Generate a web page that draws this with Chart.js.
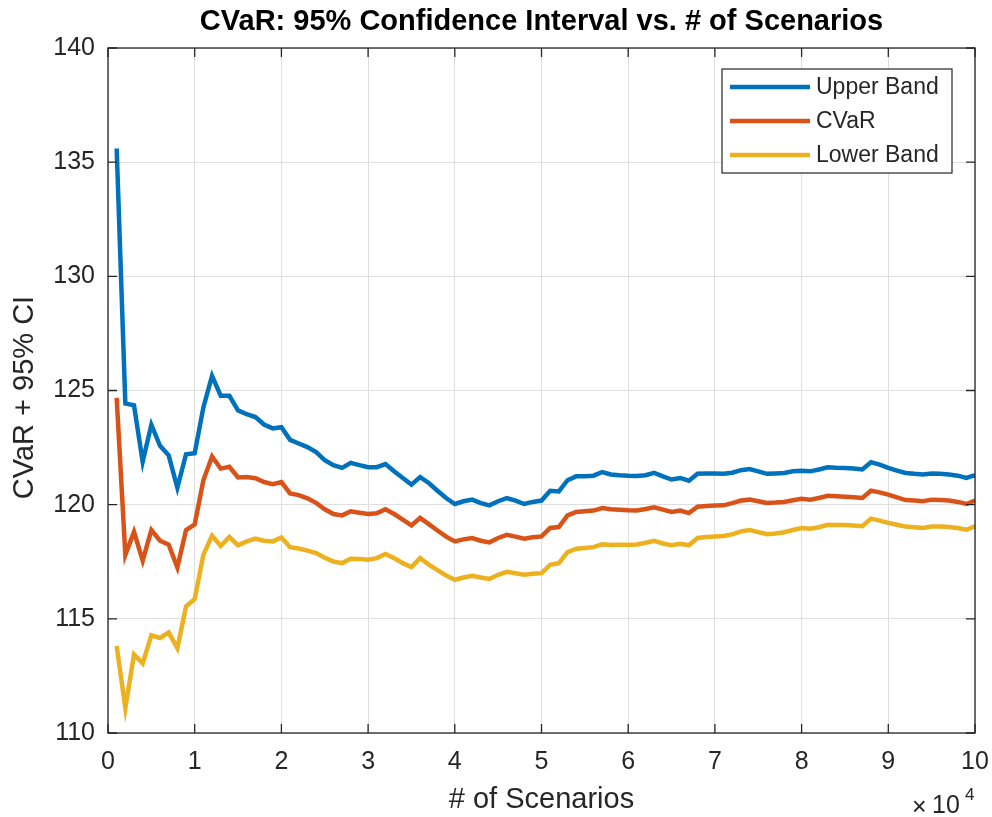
<!DOCTYPE html>
<html>
<head>
<meta charset="utf-8">
<title>CVaR: 95% Confidence Interval vs. # of Scenarios</title>
<script src="https://cdn.jsdelivr.net/npm/chart.js@4.4.1/dist/chart.umd.min.js"></script>
<style>
  html, body { margin: 0; padding: 0; background: #fff; }
</style>
</head>
<body>
<canvas id="cvarChart" width="992" height="817"></canvas>
<script>
// number of simulated scenarios at each estimate
const scenarios = [
  1000, 2000, 3000, 4000, 5000, 6000, 7000, 8000, 9000, 10000,
  11000, 12000, 13000, 14000, 15000, 16000, 17000, 18000, 19000, 20000,
  21000, 22000, 23000, 24000, 25000, 26000, 27000, 28000, 29000, 30000,
  31000, 32000, 33000, 34000, 35000, 36000, 37000, 38000, 39000, 40000,
  41000, 42000, 43000, 44000, 45000, 46000, 47000, 48000, 49000, 50000,
  51000, 52000, 53000, 54000, 55000, 56000, 57000, 58000, 59000, 60000,
  61000, 62000, 63000, 64000, 65000, 66000, 67000, 68000, 69000, 70000,
  71000, 72000, 73000, 74000, 75000, 76000, 77000, 78000, 79000, 80000,
  81000, 82000, 83000, 84000, 85000, 86000, 87000, 88000, 89000, 90000,
  91000, 92000, 93000, 94000, 95000, 96000, 97000, 98000, 99000, 100000
];

const upperBand = [
  135.60, 124.43, 124.35, 121.88, 123.50, 122.58, 122.16, 120.74, 122.21, 122.25,
  124.26, 125.64, 124.77, 124.77, 124.13, 123.96, 123.84, 123.51, 123.34, 123.39,
  122.84, 122.68, 122.52, 122.30, 121.95, 121.73, 121.61, 121.83, 121.73, 121.64,
  121.64, 121.78, 121.46, 121.17, 120.88, 121.21, 120.95, 120.61, 120.29, 120.03,
  120.15, 120.22, 120.07, 119.97, 120.15, 120.29, 120.18, 120.03, 120.12, 120.18,
  120.61, 120.58, 121.07, 121.24, 121.24, 121.27, 121.43, 121.32, 121.29, 121.27,
  121.26, 121.29, 121.39, 121.24, 121.10, 121.17, 121.05, 121.35, 121.36, 121.36,
  121.35, 121.40, 121.51, 121.56, 121.46, 121.35, 121.37, 121.39, 121.46, 121.49,
  121.46, 121.54, 121.64, 121.62, 121.61, 121.58, 121.54, 121.86, 121.75, 121.61,
  121.49, 121.39, 121.35, 121.32, 121.36, 121.35, 121.32, 121.27, 121.17, 121.29
];

const cvar = [
  124.68, 117.80, 118.81, 117.55, 118.89, 118.42, 118.25, 117.25, 118.89, 119.14,
  121.07, 122.11, 121.58, 121.66, 121.19, 121.21, 121.16, 120.99, 120.90, 120.99,
  120.49, 120.42, 120.28, 120.08, 119.80, 119.59, 119.53, 119.71, 119.65, 119.59,
  119.62, 119.80, 119.59, 119.34, 119.09, 119.42, 119.15, 118.87, 118.60, 118.39,
  118.48, 118.54, 118.42, 118.35, 118.54, 118.68, 118.60, 118.51, 118.57, 118.61,
  118.98, 119.02, 119.53, 119.68, 119.71, 119.74, 119.85, 119.80, 119.78, 119.76,
  119.75, 119.81, 119.88, 119.78, 119.68, 119.74, 119.63, 119.91, 119.94, 119.96,
  119.97, 120.07, 120.18, 120.22, 120.15, 120.07, 120.09, 120.12, 120.19, 120.26,
  120.22, 120.29, 120.39, 120.37, 120.35, 120.32, 120.29, 120.61, 120.54, 120.44,
  120.32, 120.20, 120.18, 120.15, 120.22, 120.20, 120.18, 120.12, 120.03, 120.18
];

const lowerBand = [
  113.81, 111.09, 113.44, 113.05, 114.28, 114.16, 114.40, 113.72, 115.54, 115.87,
  117.80, 118.64, 118.19, 118.59, 118.22, 118.39, 118.51, 118.42, 118.39, 118.56,
  118.14, 118.08, 117.99, 117.88, 117.68, 117.51, 117.44, 117.63, 117.62, 117.59,
  117.66, 117.84, 117.66, 117.44, 117.27, 117.66, 117.37, 117.13, 116.90, 116.71,
  116.81, 116.89, 116.81, 116.75, 116.93, 117.06, 117.00, 116.93, 116.97, 117.00,
  117.37, 117.44, 117.92, 118.07, 118.10, 118.14, 118.27, 118.23, 118.25, 118.25,
  118.26, 118.33, 118.42, 118.30, 118.22, 118.29, 118.22, 118.54, 118.58, 118.61,
  118.63, 118.70, 118.83, 118.89, 118.80, 118.71, 118.74, 118.79, 118.89, 118.98,
  118.95, 119.01, 119.12, 119.11, 119.11, 119.09, 119.06, 119.39, 119.30, 119.20,
  119.12, 119.04, 119.01, 118.98, 119.04, 119.04, 119.02, 118.98, 118.90, 119.05
];

// axis ticks (x ticks in units of scenarios, labelled in 10^4)
const xTicks = [0, 10000, 20000, 30000, 40000, 50000, 60000, 70000, 80000, 90000, 100000];
const yTicks = [110, 115, 120, 125, 130, 135, 140];

const chartTitle = 'CVaR: 95% Confidence Interval vs. # of Scenarios';
const yTitle = 'CVaR + 95% CI';

const FONT = '"Liberation Sans", Arial, Helvetica, sans-serif';
const AXIS_COLOR = '#262626';
Chart.defaults.font.family = FONT;
Chart.defaults.color = AXIS_COLOR;

function toPoints(values) {
  return values.map((v, i) => ({ x: scenarios[i], y: v }));
}

// box round the axes with inward tick marks, plus title, y label and exponent
const axesBox = {
  id: 'axesBox',
  afterDatasetsDraw(chart) {
    const { ctx, chartArea: a, scales: { x, y } } = chart;
    const len = 9;
    ctx.save();
    ctx.strokeStyle = AXIS_COLOR;
    ctx.lineWidth = 1.3;
    ctx.strokeRect(a.left, a.top, a.width, a.height);
    ctx.beginPath();
    x.ticks.forEach(t => {
      const px = x.getPixelForValue(t.value);
      ctx.moveTo(px, a.bottom); ctx.lineTo(px, a.bottom - len);
      ctx.moveTo(px, a.top); ctx.lineTo(px, a.top + len);
    });
    y.ticks.forEach(t => {
      const py = y.getPixelForValue(t.value);
      ctx.moveTo(a.left, py); ctx.lineTo(a.left + len, py);
      ctx.moveTo(a.right, py); ctx.lineTo(a.right - len, py);
    });
    ctx.stroke();

    // title centred over the axes
    ctx.fillStyle = '#000';
    ctx.textAlign = 'center';
    ctx.textBaseline = 'middle';
    ctx.font = 'bold 29px ' + FONT;
    ctx.fillText(chartTitle, (a.left + a.right) / 2, 22);

    // rotated y label
    ctx.fillStyle = AXIS_COLOR;
    ctx.font = '29px ' + FONT;
    ctx.save();
    ctx.translate(25, (a.top + a.bottom) / 2 + 7);
    ctx.rotate(-Math.PI / 2);
    ctx.fillText(yTitle, 0, 0);
    ctx.restore();

    // exponent note under the right end of the x axis
    ctx.textBaseline = 'alphabetic';
    ctx.textAlign = 'left';
    ctx.font = '25px ' + FONT;
    ctx.fillText('\u00d7', a.right - 63, 815);
    ctx.fillText('10', a.right - 43, 813);
    ctx.font = '17px ' + FONT;
    ctx.fillText('4', a.right - 10, 800);
    ctx.restore();
  }
};

// legend box in the upper right corner of the axes
const boxLegend = {
  id: 'boxLegend',
  afterDraw(chart) {
    const { ctx, chartArea: a } = chart;
    const w = 230, h = 104;
    const left = a.right - 23 - w, top = a.top + 21;
    ctx.save();
    ctx.fillStyle = '#fff';
    ctx.fillRect(left, top, w, h);
    ctx.strokeStyle = AXIS_COLOR;
    ctx.lineWidth = 1.2;
    ctx.strokeRect(left, top, w, h);
    ctx.font = '23px ' + FONT;
    ctx.textBaseline = 'middle';
    chart.data.datasets.forEach((ds, i) => {
      const cy = top + 18 + i * 34;
      ctx.strokeStyle = ds.borderColor;
      ctx.lineWidth = 4.5;
      ctx.beginPath();
      ctx.moveTo(left + 8, cy);
      ctx.lineTo(left + 88, cy);
      ctx.stroke();
      ctx.fillStyle = AXIS_COLOR;
      ctx.fillText(ds.label, left + 94, cy + 1);
    });
    ctx.restore();
  }
};

new Chart(document.getElementById('cvarChart'), {
  type: 'line',
  data: {
    datasets: [
      { label: 'Upper Band', data: toPoints(upperBand), borderColor: '#0072BD' },
      { label: 'CVaR', data: toPoints(cvar), borderColor: '#D95319' },
      { label: 'Lower Band', data: toPoints(lowerBand), borderColor: '#EDB120' }
    ]
  },
  options: {
    responsive: false,
    animation: false,
    layout: { padding: { top: 48, right: 17, bottom: 0, left: 0 } },
    elements: {
      line: { borderWidth: 4.5, tension: 0, fill: false },
      point: { radius: 0, hoverRadius: 0 }
    },
    plugins: {
      legend: { display: false },
      tooltip: { enabled: false },
      title: { display: false }
    },
    scales: {
      x: {
        type: 'linear',
        min: 0,
        max: 100000,
        afterBuildTicks: s => { s.ticks = xTicks.map(v => ({ value: v })); },
        afterFit: s => { s.height = 84; s.paddingLeft = 0; s.paddingRight = 0; },
        border: { display: false },
        grid: { color: '#dfdfdf', lineWidth: 1, drawTicks: false },
        ticks: {
          color: AXIS_COLOR,
          font: { size: 25 },
          padding: 14,
          maxRotation: 0,
          callback: v => String(v / 10000)
        },
        title: {
          display: true,
          text: '# of Scenarios',
          color: AXIS_COLOR,
          font: { size: 29 },
          padding: { top: 0, bottom: 0 }
        }
      },
      y: {
        min: 110,
        max: 140,
        afterBuildTicks: s => { s.ticks = yTicks.map(v => ({ value: v })); },
        afterFit: s => { s.width = 108; },
        border: { display: false },
        grid: { color: '#dfdfdf', lineWidth: 1, drawTicks: false },
        ticks: {
          color: AXIS_COLOR,
          font: { size: 25 },
          padding: 13
        }
      }
    }
  },
  plugins: [axesBox, boxLegend]
});
</script>
</body>
</html>
